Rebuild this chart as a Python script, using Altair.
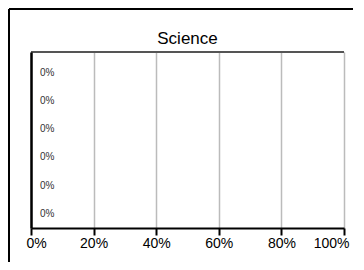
import altair as alt
import pandas as pd

categories = ["Item 1", "Item 2", "Item 3", "Item 4", "Item 5", "Item 6"]
values = [0, 0, 0, 0, 0, 0]
x_ticks = [0, 0.2, 0.4, 0.6, 0.8, 1.0]
title_text = "Science"

df = pd.DataFrame({"category": categories, "value": values})

W, H = 313, 176
PL, PT, PR, PB = 23, 44, 9, 34
FONT = "Liberation Sans"

x_enc = alt.X(
    "value:Q",
    scale=alt.Scale(domain=[0, 1], nice=False, zero=True),
    axis=alt.Axis(
        values=x_ticks, format=".0%", title=None,
        domainColor="black", domainWidth=2,
        tickColor="black", tickWidth=2, tickSize=7,
        labelFontSize=14, labelColor="black", labelPadding=1, labelFont=FONT,
        labelFlush=True, labelFlushOffset=5,
        grid=True, gridColor="#bbbbbb", gridWidth=1.5,
    ),
)
y_enc = alt.Y(
    "category:N",
    sort=categories,
    scale=alt.Scale(paddingInner=0, paddingOuter=0.12, align=1),
    axis=alt.Axis(
        title=None, labels=False, ticks=False, grid=False,
        domainColor="black", domainWidth=2.5, zindex=1,
    ),
)

base = alt.Chart(df)

bars = base.mark_bar(color="#4472c4").encode(x=x_enc, y=y_enc)

text = base.mark_text(
    align="left", baseline="middle", dx=9, fontSize=10, color="#333333", font=FONT
).encode(
    x="value:Q",
    y=alt.Y("category:N", sort=categories),
    text=alt.Text("value:Q", format=".0%"),
)

one = alt.Data(values=[{}])

top_line = alt.Chart(one).mark_rule(
    color="#555555", strokeWidth=2
).encode(x=alt.value(0), x2=alt.value(W), y=alt.value(0))

border_left = alt.Chart(one).mark_rule(color="black", strokeWidth=2).encode(
    x=alt.value(-PL + 1), y=alt.value(-PT + 1), y2=alt.value(H + PB)
)
border_top = alt.Chart(one).mark_rule(color="black", strokeWidth=2).encode(
    y=alt.value(-PT + 1), x=alt.value(-PL + 1), x2=alt.value(W + PR)
)

chart = alt.layer(bars, top_line, text, border_left, border_top).properties(
    width=W,
    height=H,
    title=alt.TitleParams(
        title_text, fontSize=17, fontWeight="normal", color="black",
        font=FONT, anchor="middle", baseline="alphabetic", offset=-53,
        frame="group",
    ),
    autosize=alt.AutoSizeParams(type="none"),
    padding={"left": PL, "top": PT, "right": PR, "bottom": PB},
).configure_view(stroke=None).configure(font=FONT, background="white")

chart.save("out.html", embed_options={"renderer": "svg", "actions": False})
